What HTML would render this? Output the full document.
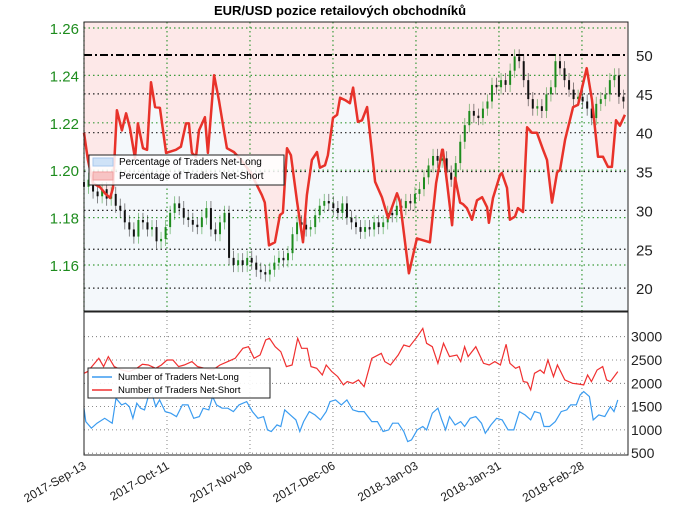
<!DOCTYPE html>
<html><head><meta charset="utf-8"><style>
body{margin:0;background:#fff;}
svg text{font-family:"Liberation Sans",sans-serif;}
</style></head><body>
<svg id="chart" width="680" height="519" viewBox="0 0 680 519" xmlns="http://www.w3.org/2000/svg">
<text x="340" y="15" text-anchor="middle" font-size="13" font-weight="bold">EUR/USD pozice retailových obchodníků</text>
<g id="topG"></g><g id="botG"></g><g id="axesG"></g>
</svg>
<script>
const dateLabels=["2017-Sep-13","2017-Oct-11","2017-Nov-08","2017-Dec-06","2018-Jan-03","2018-Jan-31","2018-Feb-28"];
const dateDays=[0,28,56,84,112,140,168];
const priceTicks=[1.16,1.18,1.20,1.22,1.24,1.26];
const pctTicks=[20,25,30,35,40,45,50];
const cntTicks=[500,1000,1500,2000,2500,3000];
const pctDays=[0,1.3,3,5.4,7.1,8.8,9.8,11.1,12.8,14.2,15.5,17.2,18.2,19.9,21.3,22.6,24,25.6,27.7,31,32.7,34.4,35.4,36.4,37.8,38.8,40.8,41.8,43.9,45.5,47.2,48.2,50.6,53,56.3,60,61,62.4,64.4,66.1,67.1,68.5,69.8,71.9,73.9,75.2,76.9,78.6,79.6,81.3,82.3,84,85.4,86.4,88.1,89.7,90.8,92.4,93.8,95.5,98.2,100.5,102.6,105.6,106.6,109.6,112.3,114,116.7,118.8,120.8,121.1,122.5,124.2,125.2,126.9,127.9,129.2,130.9,132.6,134.3,136,136.6,138,140.4,141,142.7,143.7,145.4,146.4,148.1,149.5,151.1,152.8,154.9,156.2,157.9,159.6,160.6,162.3,165,166.7,169.6,171.4,173.4,175.1,176.8,178.1,179.5,180.8,182.5];
const pctNetLong=[40.0,36.5,33.5,33.0,32.2,31.6,32.9,42.9,40.3,42.5,40.6,36.7,41.2,38.0,37.8,46.5,43.3,43.2,37.4,37.8,38.2,41.2,41.2,37.4,36.9,40.3,42.0,37.4,47.4,44.2,40.3,38.0,37.5,36.5,34.8,32.0,31.0,25.5,25.9,29.4,29.7,38.0,37.1,31.1,25.9,32.0,36.5,37.5,35.5,35.8,37.1,41.9,42.3,44.5,44.2,43.8,45.8,41.4,41.6,43.3,33.7,31.7,29.0,32.2,31.1,21.9,26.4,26.2,25.9,33.5,37.8,37.8,33.5,28.1,34.2,31.0,30.8,30.3,28.8,31.3,31.7,30.4,28.4,31.6,34.6,34.8,32.9,28.8,29.2,30.3,29.8,40.7,40.0,40.0,37.8,36.5,31.0,34.9,35.2,39.1,43.3,43.6,48.3,44.2,36.9,36.9,35.6,35.6,41.6,40.9,42.3];
const closes=[1.193,1.196,1.191,1.189,1.192,1.188,1.190,1.185,1.183,1.178,1.175,1.172,1.179,1.178,1.175,1.176,1.170,1.171,1.176,1.182,1.186,1.184,1.180,1.179,1.177,1.176,1.180,1.184,1.175,1.173,1.178,1.182,1.163,1.160,1.162,1.160,1.163,1.161,1.158,1.157,1.156,1.158,1.161,1.163,1.162,1.165,1.173,1.178,1.177,1.175,1.176,1.181,1.185,1.187,1.186,1.184,1.182,1.186,1.180,1.178,1.176,1.174,1.176,1.175,1.178,1.176,1.178,1.182,1.181,1.185,1.184,1.187,1.186,1.190,1.192,1.197,1.202,1.206,1.204,1.205,1.199,1.196,1.203,1.212,1.219,1.225,1.223,1.222,1.226,1.229,1.236,1.235,1.238,1.236,1.242,1.248,1.246,1.238,1.230,1.226,1.227,1.225,1.232,1.235,1.246,1.243,1.238,1.234,1.230,1.231,1.229,1.226,1.222,1.228,1.230,1.232,1.238,1.240,1.231,1.229];
const shortDays=[0,1.2,5.0,6.6,8.2,10.2,12.7,15.3,17.8,19.7,21.7,24.2,26.1,28.0,30.0,31.9,33.8,36.4,38.3,40.8,43.4,45.9,48.5,51.0,53.6,55.5,57.4,59.4,61.3,62.6,64.5,66.4,68.3,70.2,72.1,73.4,75.3,76.6,78.5,80.4,81.7,83.6,85.6,87.5,88.8,90.7,92.6,94.5,97.1,100.3,101.5,103.4,106.0,107.9,109.8,112.4,114.3,115.6,117.5,119.4,121.3,123.3,125.8,127.1,128.4,129.6,132.2,134.8,136.7,138.6,140.5,142.4,143.7,145.6,146.9,148.2,149.5,150.7,152.0,153.9,155.2,156.5,158.4,159.7,162.2,164.8,166.7,168.6,169.9,171.2,173.1,175.0,176.3,177.6,180.1];
const netShort=[2215,2250,2536,2358,2572,2358,2286,2250,2322,2408,2393,2322,2393,2500,2500,2358,2393,2465,2358,2322,2286,2393,2465,2536,2750,2786,2536,2608,2929,2965,2786,2679,2358,2393,2965,2750,2750,2358,2322,2179,2393,2250,2143,1965,2036,2000,2072,1929,2536,2643,2465,2393,2608,2822,2786,3000,3179,2858,2786,2429,2858,2572,2608,2465,2786,2572,2786,2429,2393,2465,2393,2836,2429,2322,2358,2036,2022,1858,2215,2286,2215,2500,2143,2393,2072,2000,1986,1965,2179,2036,2286,2358,2072,2036,2250];
const longDays=[0,0.6,2.5,4.4,7.0,9.5,10.8,12.7,14.0,15.3,16.5,17.8,19.1,20.4,21.7,22.9,24.2,25.5,27.4,29.3,31.2,33.2,35.1,37.0,38.9,40.2,42.1,43.4,44.7,46.6,48.5,50.4,52.3,54.9,56.8,58.7,60.6,61.9,63.2,65.1,66.4,67.7,69.6,71.5,72.8,74.1,76.0,77.9,79.8,81.7,83.0,84.9,86.8,88.7,90.7,92.6,94.5,97.1,99.0,100.9,102.8,104.1,106.0,107.9,109.2,110.5,112.4,114.3,115.6,117.5,119.4,120.7,122.0,123.3,125.2,127.1,128.4,130.3,132.2,134.1,135.4,137.3,139.2,141.1,143.1,145.0,146.9,148.8,150.7,152.0,153.9,155.2,157.1,159.0,161.0,162.9,164.2,166.1,167.4,168.6,170.5,171.8,173.7,175.7,177.6,178.8,180.1];
const netLong=[1465,1179,1036,1143,1250,1143,1679,1536,1572,1500,1250,1572,1465,1429,1715,1786,1500,1643,1393,1358,1286,1536,1536,1250,1286,1465,1429,1715,1536,1465,1465,1393,1536,1608,1393,1250,1286,1000,965,1107,1072,1429,1322,1215,965,1179,1393,1322,1215,1393,1608,1643,1536,1643,1429,1393,1393,1179,1179,965,1000,1143,1143,965,750,786,1000,1072,1000,1358,1465,1215,1000,1286,1107,1179,1072,1250,1286,1143,929,1107,1250,1215,1000,1000,1393,1322,1215,1393,1358,1072,1072,1179,1393,1429,1536,1536,1750,1822,1715,1215,1322,1286,1500,1393,1643];

(function(){
const NS="http://www.w3.org/2000/svg";
const L=84,R=628,T1=22,B1=311,T2=312,B2=455;
const xDay=d=>L+Math.min(Math.max(d,0),184)*2.964;
const yPct=v=>55+(50-v)*7.77;
const yPx=p=>28+(1.26-p)*2370;
const yCnt=v=>336.7+(3000-v)*0.0466;
function el(tag,attrs,parent,txt){const e=document.createElementNS(NS,tag);for(const k in attrs)e.setAttribute(k,attrs[k]);if(txt!==undefined)e.textContent=txt;parent.appendChild(e);return e;}
const topG=document.getElementById('topG'),botG=document.getElementById('botG'),axesG=document.getElementById('axesG');
function series(days,vals,fx,fy){const m=Math.min(days.length,vals.length);const p=[];for(let i=0;i<m;i++)p.push(fx(days[i]).toFixed(1)+','+fy(vals[i]).toFixed(1));return p;}

el('rect',{x:L,y:T1,width:R-L,height:B1-T1,fill:'#f4f8fb'},topG);
const pts=series(pctDays,pctNetLong,xDay,yPct);
const lastY=pts[pts.length-1].split(',')[1];
const pinkFill=el('polygon',{points:L+','+T1+' '+L+','+pts[0].split(',')[1]+' '+pts.join(' ')+' '+R+','+lastY+' '+R+','+T1,fill:'#fde8e8'},topG);


pctTicks.forEach(v=>{if(v===50)return;const g=el('line',{x1:L,x2:R,y1:yPct(v),y2:yPct(v),stroke:'#222','stroke-width':1.2,'stroke-dasharray':'1.5,3'},topG);

});
priceTicks.forEach(v=>{const g=el('line',{x1:L,x2:R,y1:yPx(v),y2:yPx(v),stroke:'#3a9a3a','stroke-width':1.2,'stroke-dasharray':'1.5,3'},topG);

});
dateDays.forEach(d=>{const g=el('line',{x1:xDay(d),x2:xDay(d),y1:T1,y2:B1,stroke:'#3a9a3a','stroke-width':1.2,'stroke-dasharray':'1.5,3'},topG);

});
const thr=el('line',{x1:L,x2:R,y1:yPct(50),y2:yPct(50),stroke:'#000','stroke-width':2,'stroke-dasharray':'8,3,2,3'},topG);


const n=closes.length;
for(let i=0;i<n;i++){
  const d=i*(182/(n-1));const x=xDay(d);
  const o=i>0?closes[i-1]:closes[i]+0.002;const c=closes[i];
  const col=c>=o?'#1e8c1e':'#111';
  const w=el('line',{x1:x,x2:x,y1:yPx(Math.max(o,c)+0.003),y2:yPx(Math.min(o,c)-0.003),stroke:col,'stroke-width':0.8,opacity:0.6},topG);
  
  
  const b=el('rect',{x:x-1,y:yPx(Math.max(o,c)),width:2,height:Math.max(1,Math.abs(yPx(o)-yPx(c))),fill:col},topG);
  
  
}
const pl=el('polyline',{points:pts.join(' '),fill:'none',stroke:'#e8322a','stroke-width':2.5,'stroke-linejoin':'round'},topG);


const lg=el('g',{},topG);


el('rect',{x:89,y:155,width:195,height:30,fill:'#fff','fill-opacity':0.85,stroke:'#222','stroke-width':1},lg);
el('rect',{x:93,y:158,width:20,height:8,fill:'#cfe2f7',stroke:'#a9c8ee'},lg);
el('text',{x:119,y:165,'font-size':10},lg,'Percentage of Traders Net-Long');
el('rect',{x:93,y:172,width:20,height:8,fill:'#f7c4c4',stroke:'#f0a0a0'},lg);
el('text',{x:119,y:179,'font-size':10},lg,'Percentage of Traders Net-Short');
el('rect',{x:L,y:T1,width:R-L,height:B1-T1,fill:'none',stroke:'#222','stroke-width':1},topG);

el('rect',{x:L,y:T2,width:R-L,height:B2-T2,fill:'#fff'},botG);
cntTicks.forEach(v=>{const g=el('line',{x1:L,x2:R,y1:yCnt(v),y2:yCnt(v),stroke:'#666','stroke-width':0.8,'stroke-dasharray':'1,3'},botG);

});
dateDays.forEach(d=>{const g=el('line',{x1:xDay(d),x2:xDay(d),y1:T2,y2:B2,stroke:'#666','stroke-width':0.8,'stroke-dasharray':'1,3'},botG);

});
const sl=el('polyline',{points:series(shortDays,netShort,xDay,yCnt).join(' '),fill:'none',stroke:'#f03030','stroke-width':1.2},botG);


const ll=el('polyline',{points:series(longDays,netLong,xDay,yCnt).join(' '),fill:'none',stroke:'#3b9cf0','stroke-width':1.2},botG);


const lg2=el('g',{},botG);


el('rect',{x:88,y:368,width:182,height:30,fill:'#fff','fill-opacity':0.9,stroke:'#222','stroke-width':1},lg2);
el('line',{x1:92,x2:112,y1:377,y2:377,stroke:'#3b9cf0','stroke-width':1.5},lg2);
el('text',{x:118,y:380,'font-size':9.5},lg2,'Number of Traders Net-Long');
el('line',{x1:92,x2:112,y1:390,y2:390,stroke:'#f03030','stroke-width':1.5},lg2);
el('text',{x:118,y:393,'font-size':9.5},lg2,'Number of Traders Net-Short');
el('rect',{x:L,y:T2,width:R-L,height:B2-T2,fill:'none',stroke:'#222','stroke-width':1},botG);

priceTicks.forEach(v=>{const t=el('text',{x:79,y:yPx(v)+6,'text-anchor':'end','font-size':15,fill:'#1e8c1e'},axesG,v.toFixed(2));

});
pctTicks.forEach(v=>{const t=el('text',{x:636,y:yPct(v)+6,'font-size':15,fill:'#222'},axesG,String(v));

});
cntTicks.forEach(v=>{const t=el('text',{x:631,y:yCnt(v)+5,'font-size':14,fill:'#222'},axesG,String(v));

});
dateDays.forEach((d,i)=>{const x=xDay(d);const t=el('text',{x:x+3,y:468,'text-anchor':'end','font-size':12,fill:'#222',transform:'rotate(-30 '+(x+3)+' 468)'},axesG,dateLabels[i]);

});
})();
</script>
</body></html>
